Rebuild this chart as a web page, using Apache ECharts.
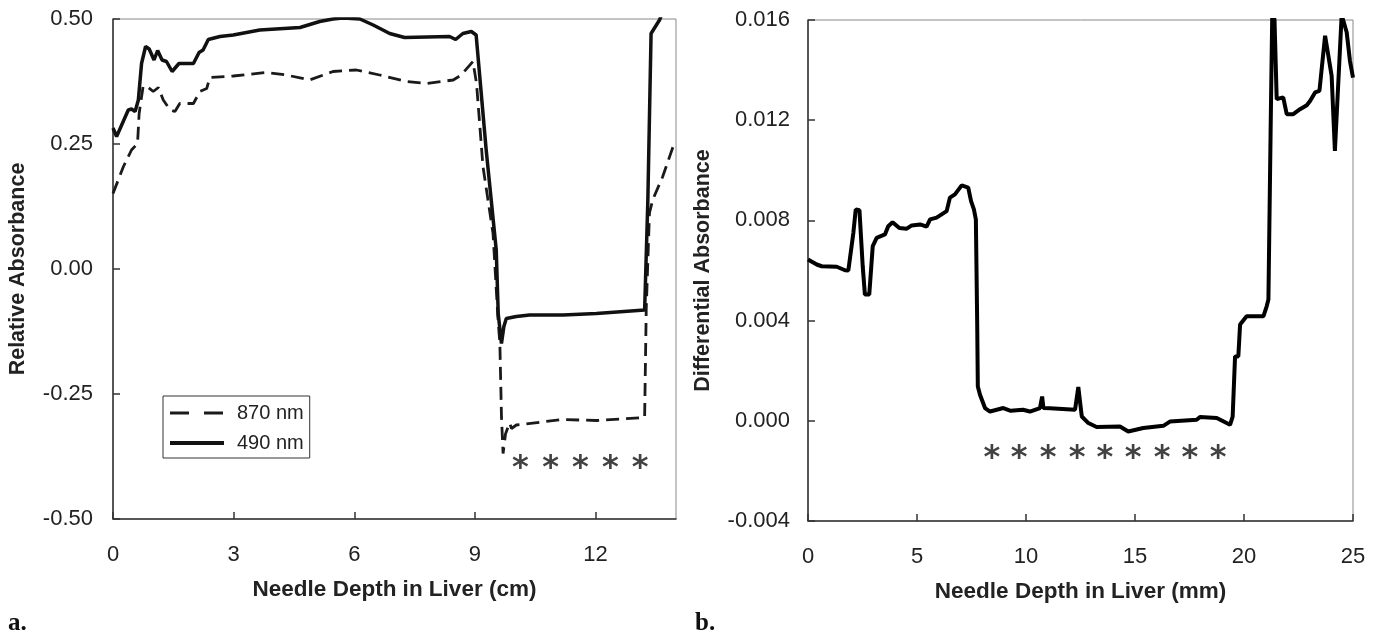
<!DOCTYPE html>
<html>
<head>
<meta charset="utf-8">
<script src="https://cdn.jsdelivr.net/npm/echarts@6/dist/echarts.min.js"></script>
<style>
html,body{margin:0;padding:0;background:#fff;}
#c{width:1377px;height:633px;}
</style>
</head>
<body>
<div id="c"></div>
<script>
// Panel a: Relative absorbance vs needle depth (cm)
const x870 = [0, 0.26, 0.46, 0.61, 0.65, 0.75, 0.88, 1.00, 1.13, 1.25, 1.42, 1.54, 1.66, 2.00, 2.16, 2.33, 2.41, 2.99, 3.81, 4.31, 4.89, 5.47, 6.05, 6.63, 7.30, 7.79, 8.46, 8.66, 8.95, 9.04, 9.20, 9.45, 9.57, 9.62, 9.66, 9.70, 9.76, 9.86, 9.91, 10.03, 10.77, 11.19, 12.02, 13.22, 13.26, 13.34, 13.42, 13.67, 13.95];
const y870 = [0.151, 0.205, 0.238, 0.251, 0.311, 0.366, 0.363, 0.355, 0.363, 0.338, 0.318, 0.315, 0.331, 0.331, 0.355, 0.361, 0.383, 0.386, 0.393, 0.388, 0.378, 0.395, 0.398, 0.388, 0.375, 0.371, 0.378, 0.388, 0.415, 0.371, 0.205, 0.071, -0.095, -0.149, -0.295, -0.369, -0.330, -0.308, -0.319, -0.312, -0.305, -0.301, -0.303, -0.297, -0.080, 0.112, 0.138, 0.185, 0.250];
const x490 = [0, 0.09, 0.38, 0.46, 0.55, 0.63, 0.71, 0.81, 0.90, 1.02, 1.11, 1.22, 1.33, 1.47, 1.64, 2.00, 2.14, 2.24, 2.37, 2.66, 2.99, 3.65, 4.65, 5.14, 5.47, 5.72, 6.14, 6.47, 6.88, 7.25, 8.37, 8.52, 8.70, 8.91, 9.03, 9.28, 9.53, 9.58, 9.66, 9.72, 9.78, 10.03, 10.36, 11.19, 12.02, 13.22, 13.30, 13.38, 13.59, 13.70];
const y490 = [0.282, 0.265, 0.318, 0.320, 0.315, 0.338, 0.411, 0.445, 0.440, 0.418, 0.437, 0.418, 0.415, 0.395, 0.411, 0.411, 0.433, 0.438, 0.459, 0.465, 0.468, 0.478, 0.483, 0.495, 0.500, 0.502, 0.500, 0.488, 0.471, 0.463, 0.465, 0.459, 0.471, 0.475, 0.468, 0.238, 0.038, -0.090, -0.149, -0.115, -0.099, -0.095, -0.092, -0.092, -0.089, -0.082, 0.138, 0.471, 0.498, 0.520];
const starsAx = [10.13, 10.88, 11.62, 12.37, 13.11];
const starsAy = [-0.386, -0.386, -0.386, -0.386, -0.386];
const ticksA = {min: 0, max: 14, interval: 3, ymin: -0.5, ymax: 0.5, yinterval: 0.25};

// Panel b: Differential absorbance vs needle depth (mm)
const xDiff = [0, 0.40, 0.63, 1.32, 1.70, 1.85, 2.08, 2.19, 2.36, 2.51, 2.61, 2.81, 2.97, 3.15, 3.53, 3.68, 3.88, 4.19, 4.53, 4.76, 5.14, 5.44, 5.60, 5.90, 6.36, 6.51, 6.74, 7.05, 7.35, 7.48, 7.61, 7.70, 7.76, 7.79, 7.89, 8.12, 8.35, 8.96, 9.30, 9.86, 10.18, 10.64, 10.74, 10.80, 11.10, 12.25, 12.40, 12.50, 12.56, 12.86, 13.24, 14.31, 14.69, 15.38, 16.30, 16.60, 17.83, 17.98, 18.75, 19.36, 19.48, 19.59, 19.74, 19.82, 20.12, 20.89, 21.04, 21.12, 21.22, 21.30, 21.40, 21.50, 21.80, 21.96, 22.26, 22.57, 22.88, 23.03, 23.26, 23.46, 23.72, 24.02, 24.17, 24.48, 24.71, 24.86, 25.00];
const yDiff = [0.00644, 0.00624, 0.00617, 0.00615, 0.00601, 0.00600, 0.00750, 0.00844, 0.00841, 0.00617, 0.00504, 0.00504, 0.00697, 0.00730, 0.00744, 0.00777, 0.00793, 0.00770, 0.00767, 0.00780, 0.00784, 0.00775, 0.00804, 0.00811, 0.00837, 0.00891, 0.00904, 0.00940, 0.00931, 0.00877, 0.00844, 0.00804, 0.00400, 0.00137, 0.00104, 0.00051, 0.00037, 0.00051, 0.00040, 0.00044, 0.00037, 0.00051, 0.00097, 0.00051, 0.00050, 0.00044, 0.00135, 0.00060, 0.00017, -0.00009, -0.00025, -0.00023, -0.00043, -0.00029, -0.00020, -0.00003, 0.00004, 0.00015, 0.00011, -0.00016, 0.00017, 0.00257, 0.00257, 0.00384, 0.00417, 0.00417, 0.00457, 0.00484, 0.01150, 0.01650, 0.01600, 0.01284, 0.01291, 0.01224, 0.01224, 0.01244, 0.01260, 0.01277, 0.01311, 0.01317, 0.01537, 0.01377, 0.01077, 0.01620, 0.01551, 0.01437, 0.01370];
const starsBx = [8.44, 9.68, 11.01, 12.34, 13.62, 14.91, 16.24, 17.52, 18.81];
const starsBy = [-0.00124, -0.00124, -0.00124, -0.00124, -0.00124, -0.00124, -0.00124, -0.00124, -0.00124];
const ticksB = {min: 0, max: 25, interval: 5, ymin: -0.004, ymax: 0.016, yinterval: 0.004};

const zip = (a, b) => a.map((v, i) => [v, b[i]]);

const FONT = 'Liberation Sans, Arial, sans-serif';
const axisCol = '#333';
const lblStyle = {fontFamily: FONT, fontSize: 22, color: '#222'};
const xNameStyle = {fontFamily: FONT, fontSize: 22.5, fontWeight: 'bold', color: '#222'};
const yNameStyle = {fontFamily: FONT, fontSize: 21.5, fontWeight: 'bold', color: '#222'};

function xAx(gi, t, name, hideMax) {
  return {
    type: 'value', gridIndex: gi, min: t.min, max: t.max, interval: t.interval,
    name: name, nameLocation: 'middle', nameGap: 59, nameTextStyle: xNameStyle,
    axisLine: {show: true, onZero: false, lineStyle: {color: axisCol, width: 1.5}},
    axisTick: {show: true, inside: true, length: 7, lineStyle: {color: axisCol, width: 1.5}},
    axisLabel: Object.assign({margin: 25, showMaxLabel: !hideMax}, lblStyle),
    splitLine: {show: false}
  };
}
function yAx(gi, t, name, dec, gap, margin) {
  return {
    type: 'value', gridIndex: gi, min: t.ymin, max: t.ymax, interval: t.yinterval,
    name: name, nameLocation: 'middle', nameGap: gap, nameTextStyle: yNameStyle,
    axisLine: {show: true, onZero: false, lineStyle: {color: axisCol, width: 1.5}},
    axisTick: {show: true, inside: true, length: 7, lineStyle: {color: axisCol, width: 1.5}},
    axisLabel: Object.assign({margin: margin, formatter: v => v.toFixed(dec)}, lblStyle),
    splitLine: {show: false}
  };
}
function stars(xi, xs, ys) {
  return {
    type: 'scatter', xAxisIndex: xi, yAxisIndex: xi, data: zip(xs, ys),
    symbolSize: 1, itemStyle: {color: 'rgba(0,0,0,0)'}, silent: true,
    label: {show: true, position: 'inside', formatter: '*', fontFamily: 'DejaVu Sans', fontWeight: 'bold', fontSize: 32, color: '#111', offset: [0, 7]}
  };
}

const chart = echarts.init(document.getElementById('c'), null, {renderer: 'canvas'});
chart.setOption({
  animation: false,
  backgroundColor: '#fff',
  grid: [
    {left: 113, top: 19, width: 563, height: 500, show: true, borderColor: '#888', borderWidth: 1},
    {left: 808, top: 20, width: 545, height: 501, show: true, borderColor: '#888', borderWidth: 1}
  ],
  xAxis: [xAx(0, ticksA, 'Needle Depth in Liver (cm)', true), xAx(1, ticksB, 'Needle Depth in Liver (mm)', false)],
  yAxis: [yAx(0, ticksA, 'Relative Absorbance', 2, 84, 20), yAx(1, ticksB, 'Differential Absorbance', 3, 94, 18)],
  legend: {
    left: 163, top: 396, orient: 'vertical',
    borderColor: '#333', borderWidth: 1, padding: [7, 6, 5, 5],
    itemWidth: 54, itemHeight: 20, itemGap: 10,
    itemStyle: {opacity: 0},
    textStyle: {fontFamily: FONT, fontSize: 20, color: '#222', padding: [0, 0, 0, 8]},
    data: [
      {name: '870 nm', lineStyle: {type: [19, 15], width: 3}, itemStyle: {opacity: 0}},
      {name: '490 nm', lineStyle: {width: 4}, itemStyle: {opacity: 0}}
    ]
  },
  graphic: [
    {type: 'text', left: 8, top: 611, style: {text: 'a.', font: 'bold 25px "Liberation Serif", serif', fill: '#111'}},
    {type: 'text', left: 695, top: 611, style: {text: 'b.', font: 'bold 25px "Liberation Serif", serif', fill: '#111'}}
  ],
  series: [
    {name: '870 nm', type: 'line', xAxisIndex: 0, yAxisIndex: 0, data: zip(x870, y870), symbol: 'none',
     lineStyle: {color: '#1a1a1a', width: 2.8, type: [13, 7]}, itemStyle: {color: '#1a1a1a'}},
    {name: '490 nm', type: 'line', xAxisIndex: 0, yAxisIndex: 0, data: zip(x490, y490), symbol: 'none',
     lineStyle: {color: '#111', width: 3.5}, itemStyle: {color: '#111'}},
    stars(0, starsAx, starsAy),
    {name: 'diff', type: 'line', xAxisIndex: 1, yAxisIndex: 1, data: zip(xDiff, yDiff), symbol: 'none',
     lineStyle: {color: '#000', width: 4}, itemStyle: {color: '#000'}},
    stars(1, starsBx, starsBy)
  ]
});
</script>
</body>
</html>
